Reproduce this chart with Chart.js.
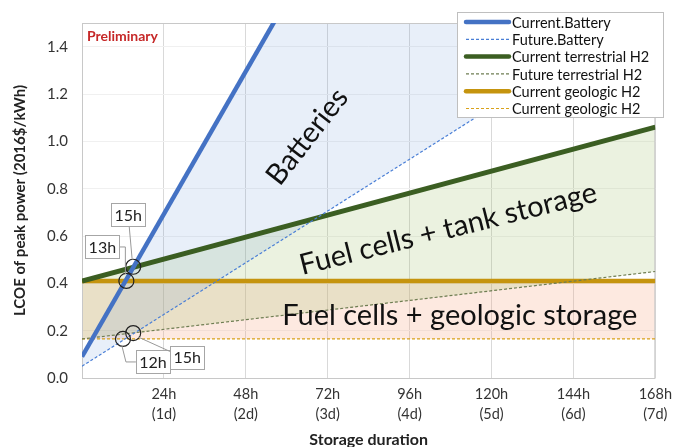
<!DOCTYPE html>
<html>
<head>
<meta charset="utf-8">
<script src="https://cdn.jsdelivr.net/npm/chart.js@4.4.1/dist/chart.umd.min.js"></script>
<style>
  html, body { margin: 0; padding: 0; background: #fff; }
  #wrap { width: 679px; height: 447px; }
</style>
</head>
<body>
<div id="wrap"><canvas id="chart" width="679" height="447"></canvas></div>
<script>
// LCOE of peak power vs storage duration

const hours = [0, 168];
const currentBattery = [0.09, 4.31];
const futureBattery = [0.05, 1.58];
const currentTerrestrial = [0.41, 1.06];
const futureTerrestrial = [0.165, 0.45];
const currentGeologic = [0.41, 0.41];
const futureGeologic = [0.165, 0.165];

const seriesNames = ['Current.Battery', 'Future.Battery', 'Current terrestrial H2',
  'Future terrestrial H2', 'Current geologic H2', 'Current geologic H2'];

// crossover markers
const crossHours = [13, 15, 12, 15];
const crossValues = [0.41, 0.47, 0.165, 0.19];
const crossLabels = ['13h', '15h', '12h', '15h'];

const xTicks = [0, 24, 48, 72, 96, 120, 144, 168];
const yTicks = [0, 0.2, 0.4, 0.6, 0.8, 1.0, 1.2, 1.4];

const regionLabels = ['Batteries', 'Fuel cells + tank storage', 'Fuel cells + geologic storage'];

const FONT = 'Lato, "Open Sans", sans-serif';

function pts(ys) {
  return hours.map((h, i) => ({ x: h, y: ys[i] }));
}

const styles = [
  { color: '#4472C4', width: 4.5, dash: [] },
  { color: '#4A7FD6', width: 1.2, dash: [3, 2] },
  { color: '#3B5E22', width: 5, dash: [] },
  { color: '#6E7D52', width: 1.2, dash: [3, 2] },
  { color: '#C5940E', width: 4.5, dash: [] },
  { color: '#D9A21B', width: 1.2, dash: [3, 2] }
];

const fills = [
  'rgba(102,148,215,0.15)', false,
  'rgba(155,190,100,0.2)', false,
  'rgba(247,167,131,0.25)', false
];

const seriesData = [currentBattery, futureBattery, currentTerrestrial,
  futureTerrestrial, currentGeologic, futureGeologic];

const datasets = seriesData.map((ys, i) => ({
  label: seriesNames[i],
  data: pts(ys),
  borderColor: styles[i].color,
  borderWidth: styles[i].width,
  borderDash: styles[i].dash,
  backgroundColor: fills[i] || 'transparent',
  fill: fills[i] ? '+1' : false,
  pointRadius: 0,
  tension: 0
}));

datasets.push({
  label: 'markers',
  data: crossHours.map((h, i) => ({ x: h, y: crossValues[i] })),
  showLine: false,
  pointRadius: 7.5,
  pointBorderWidth: 1.2,
  pointBorderColor: '#222',
  pointBackgroundColor: 'transparent',
  fill: false,
  order: -1
});

// callout box offsets from the marker, and leader paths
const callouts = [
  { dx: -24, dy: -34, leader: (p, b) => [[b.r, b.cy], [p.x - 1, b.cy], [p.x - 1, p.y - 7]] },
  { dx: -5, dy: -52, leader: (p, b) => [[b.cx + 1, b.b], [p.x - 1, p.y - 7]] },
  { dx: 30, dy: 23, leader: (p, b) => [[p.x - 1, p.y + 7], [p.x + 3, b.cy], [b.l, b.cy]] },
  { dx: 54, dy: 24, leader: (p, b) => [[p.x + 5, p.y + 4], [b.l, b.t + 6]] }
];

const overlay = {
  id: 'overlay',
  beforeDatasetsDraw(chart) {
    const { ctx, chartArea: a } = chart;
    ctx.save();
    ctx.strokeStyle = '#C8C8C8';
    ctx.lineWidth = 1;
    ctx.strokeRect(a.left + 0.5, a.top + 0.5, a.right - a.left - 1, a.bottom - a.top);
    ctx.restore();
  },
  afterDatasetsDraw(chart) {
    const { ctx, chartArea: a, scales: { x, y } } = chart;
    ctx.save();

    // region labels
    ctx.fillStyle = '#111';
    ctx.textAlign = 'center';
    ctx.textBaseline = 'middle';
    const spots = [[66, 1.02, -52], [107.3, 0.63, -14], [110.7, 0.262, 0]];
    regionLabels.forEach((t, i) => {
      const [hx, vy, rot] = spots[i];
      ctx.save();
      ctx.translate(x.getPixelForValue(hx), y.getPixelForValue(vy));
      ctx.rotate(rot * Math.PI / 180);
      ctx.font = '29px ' + FONT;
      ctx.fillText(t, 0, 0);
      ctx.restore();
    });

    // callouts
    ctx.font = '16px ' + FONT;
    crossLabels.forEach((t, i) => {
      const p = { x: x.getPixelForValue(crossHours[i]), y: y.getPixelForValue(crossValues[i]) };
      const c = callouts[i];
      const w = 34, h = 23;
      const cx = p.x + c.dx, cy = p.y + c.dy;
      const b = { l: cx - w / 2, r: cx + w / 2, t: cy - h / 2, b: cy + h / 2, cx, cy };
      ctx.strokeStyle = '#999';
      ctx.lineWidth = 1;
      const path = c.leader(p, b);
      ctx.beginPath();
      path.forEach(([px, py], k) => k ? ctx.lineTo(px, py) : ctx.moveTo(px, py));
      ctx.stroke();
      ctx.fillStyle = '#fff';
      ctx.fillRect(b.l, b.t, w, h);
      ctx.strokeStyle = '#A6A6A6';
      ctx.strokeRect(Math.round(b.l) + 0.5, Math.round(b.t) + 0.5, w, h);
      ctx.fillStyle = '#222';
      ctx.fillText(t, cx, cy + 1);
    });

    // Preliminary stamp
    ctx.fillStyle = '#C62828';
    ctx.font = 'bold 14px ' + FONT;
    ctx.textAlign = 'left';
    ctx.fillText('Preliminary', a.left + 5, a.top + 13);

    // legend box
    const lx = 457, ly = 12, lw = 206, lh = 105;
    ctx.fillStyle = '#fff';
    ctx.fillRect(lx, ly, lw, lh);
    ctx.strokeStyle = '#BFBFBF';
    ctx.strokeRect(lx + 0.5, ly + 0.5, lw, lh);
    ctx.font = '14.5px ' + FONT;
    ctx.textBaseline = 'middle';
    seriesNames.forEach((n, i) => {
      const ry = ly + 10 + i * 17.3;
      ctx.strokeStyle = styles[i].color;
      ctx.lineWidth = styles[i].dash.length ? 1.2 : 4.5;
      ctx.setLineDash(styles[i].dash);
      ctx.lineCap = styles[i].dash.length ? 'butt' : 'round';
      ctx.beginPath();
      ctx.moveTo(lx + 9, ry);
      ctx.lineTo(lx + 52, ry);
      ctx.stroke();
      ctx.setLineDash([]);
      ctx.fillStyle = '#111';
      ctx.fillText(n, lx + 55, ry + 1);
    });
    ctx.restore();
  }
};

new Chart(document.getElementById('chart').getContext('2d'), {
  type: 'line',
  data: { datasets: datasets },
  options: {
    responsive: false,
    animation: false,
    layout: { padding: { top: 9, right: 15, left: 0, bottom: 0 } },
    scales: {
      x: {
        type: 'linear',
        min: 0,
        max: 168,
        afterFit: s => { s.height = 69; },
        afterBuildTicks: s => { s.ticks = xTicks.map(v => ({ value: v })); },
        grid: { color: '#D9D9D9', drawTicks: false },
        border: { display: false },
        ticks: {
          padding: 7,
          color: '#333',
          font: { family: FONT, size: 14.5, lineHeight: 1.35 },
          callback: v => v === 0 ? '' : [v + 'h', '(' + (v / 24) + 'd)']
        },
        title: {
          display: true,
          text: 'Storage duration',
          color: '#222',
          font: { family: FONT, size: 16, weight: 'bold' },
          padding: { top: 0, bottom: -2 }
        }
      },
      y: {
        min: 0,
        max: 1.5,
        afterFit: s => { s.width = 82; },
        afterBuildTicks: s => { s.ticks = yTicks.map(v => ({ value: v })); },
        grid: { color: '#F0F0F0', drawTicks: false },
        border: { display: false },
        ticks: {
          padding: 14,
          color: '#333',
          font: { family: FONT, size: 15 },
          callback: v => v.toFixed(1)
        },
        title: {
          display: true,
          text: 'LCOE of peak power (2016$/kWh)',
          color: '#222',
          font: { family: FONT, size: 15, weight: 'bold' },
          padding: { top: 11, bottom: 0 }
        }
      }
    },
    plugins: {
      legend: { display: false },
      tooltip: { enabled: false },
      filler: { drawTime: 'beforeDatasetsDraw' }
    }
  },
  plugins: [overlay]
});
</script>
</body>
</html>
